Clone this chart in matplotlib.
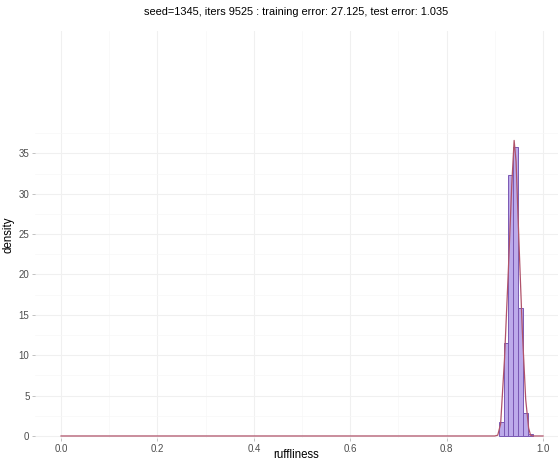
import numpy as np
import matplotlib.pyplot as plt

plt.rcParams['font.family'] = ['Liberation Sans', 'DejaVu Sans']

# histogram of ruffliness (density scale)
bin_left = [0.908, 0.918, 0.928, 0.938, 0.948, 0.958, 0.968]
bin_width = 0.0102
bin_height = [1.7, 11.5, 32.3, 35.8, 15.9, 2.8, 0.2]

# kernel density estimate
dens_x = [0.0, 0.2, 0.4, 0.6, 0.8, 0.9, 0.906, 0.912, 0.92, 0.928, 0.935, 0.940,
          0.944, 0.950, 0.957, 0.964, 0.970, 0.974, 0.98, 1.0]
dens_y = [0.0, 0.0, 0.0, 0.0, 0.0, 0.0, 0.1, 1.5, 9.5, 20.5, 31.0, 36.6,
          34.0, 24.0, 13.0, 4.5, 1.0, 0.1, 0.0, 0.0]

title = "seed=1345, iters 9525 : training error: 27.125, test error: 1.035"

fig = plt.figure(figsize=(5.58, 4.62), dpi=100)
ax = fig.add_axes([35 / 558, 1 - 438 / 462, 1 - 35 / 558, (438 - 31) / 462])

ax.bar(bin_left, bin_height, width=bin_width, align='edge',
       color='#bcaaea', edgecolor='#7a58b4', linewidth=0.7, zorder=3)
ax.plot(dens_x, dens_y, color='#b0536a', linewidth=0.9, zorder=4)

ax.set_xlim(-0.054, 1.031)
ax.set_ylim(-0.25, 50.15)
ax.set_xticks(np.arange(0, 1.01, 0.2))
ax.set_xticklabels(['0.0', '0.2', '0.4', '0.6', '0.8', '1.0'])
ax.set_yticks(np.arange(0, 36, 5))
ax.set_xticks(np.arange(0.1, 1.0, 0.2), minor=True)
ax.set_yticks(np.arange(2.5, 38, 5), minor=True)

ax.grid(which='major', color='#f0f0f0', linewidth=0.8, zorder=0)
ax.grid(which='minor', color='#f7f7f7', linewidth=0.5, zorder=0)
for s in ax.spines.values():
    s.set_visible(False)
ax.tick_params(which='major', length=2.5, width=0.5, color='#aaaaaa',
               labelcolor='#4d4d4d', labelsize=7, pad=1.5)
ax.tick_params(which='minor', length=0)

ax.set_ylabel('density', fontsize=8.3, labelpad=3)
fig.text(296 / 558, 1 - 455 / 462, 'ruffliness', fontsize=8.3,
         ha='center', va='center')
fig.text(296 / 558, 1 - 12 / 462, title, fontsize=7.9,
         ha='center', va='center')

fig.savefig('out.png', dpi=100)
